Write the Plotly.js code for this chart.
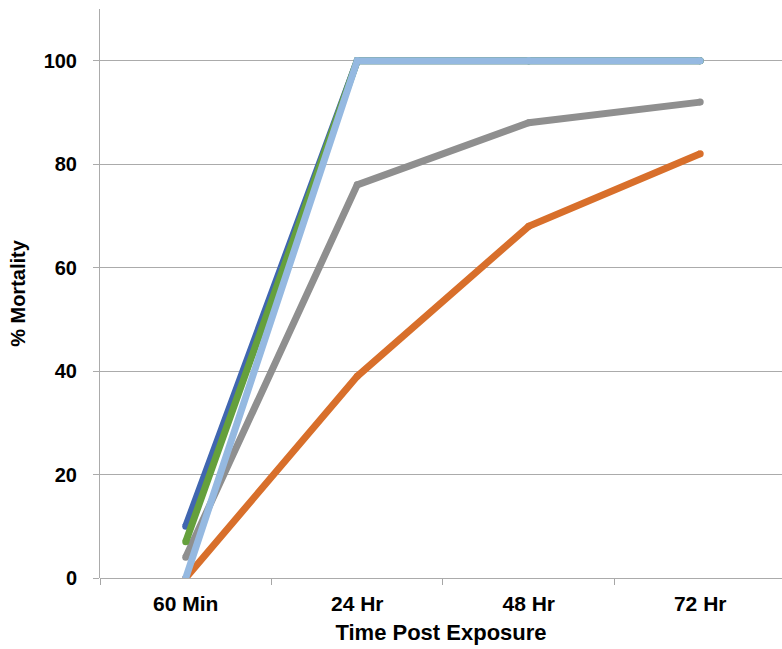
<!DOCTYPE html>
<html>
<head>
<meta charset="utf-8">
<script src="https://cdn.plot.ly/plotly-3.0.1.min.js"></script>
<style>html,body{margin:0;padding:0;background:#fff;}#chart{width:782px;height:649px;}</style>
</head>
<body>
<div id="chart"></div>
<script>
const categories = ["60 Min", "24 Hr", "48 Hr", "72 Hr"];
const seriesNames = ["Series 1", "Series 2", "Series 3", "Series 4", "Series 5"];
const seriesBlue = [10, 100, 100, 100];
const seriesOrange = [0, 39, 68, 82];
const seriesGray = [4, 76, 88, 92];
const seriesGreen = [7, 100, 100, 100];
const seriesLightBlue = [0, 100, 100, 100];
const yTicks = [0, 20, 40, 60, 80, 100];

const colors = {blue: "#4066b0", orange: "#d86f2b", gray: "#8f8f8f", green: "#65a03c", light: "#95b9e1"};
const FONT = "Liberation Sans, Arial, sans-serif";

function mk(name, y, color) {
  return {
    type: "scatter", mode: "lines+markers", name: name,
    x: categories, y: y,
    line: {color: color, width: 7, shape: "linear"},
    marker: {color: color, size: 7, line: {width: 0}},
    hoverinfo: "x+y"
  };
}
const data = [
  mk(seriesNames[1], seriesOrange, colors.orange),
  mk(seriesNames[2], seriesGray, colors.gray),
  mk(seriesNames[0], seriesBlue, colors.blue),
  mk(seriesNames[3], seriesGreen, colors.green),
  mk(seriesNames[4], seriesLightBlue, colors.light)
];

const layout = {
  width: 782, height: 649,
  margin: {l: 100, r: 0, t: 9, b: 71},
  paper_bgcolor: "#ffffff", plot_bgcolor: "#ffffff",
  showlegend: false,
  font: {family: FONT, color: "#000"},
  xaxis: {
    type: "category",
    range: [-0.5, 3.477],
    showgrid: false, zeroline: false,
    showline: false,
    ticks: "outside", tickson: "boundaries", ticklen: 6, tickcolor: "#a6a6a6", tickwidth: 1,
    ticklabelstandoff: 11,
    tickfont: {size: 21, family: FONT, weight: "bold"},
    title: {text: "<b>Time Post Exposure</b>", font: {size: 22, family: FONT}, standoff: 10},
    fixedrange: true
  },
  yaxis: {
    range: [0, 110],
    tickvals: yTicks,
    showgrid: true, gridcolor: "#ababab", gridwidth: 1,
    zeroline: true, zerolinecolor: "#ababab", zerolinewidth: 1,
    showline: true, linecolor: "#ababab", linewidth: 1,
    ticks: "outside", ticklen: 6, tickcolor: "#ababab",
    ticklabelstandoff: 12,
    tickfont: {size: 20, family: FONT, weight: "bold"},
    title: {text: "<b>% Mortality</b>", font: {size: 20, family: FONT}, standoff: 12},
    fixedrange: true
  }
};

Plotly.newPlot("chart", data, layout, {displayModeBar: false, staticPlot: true});
</script>
</body>
</html>
